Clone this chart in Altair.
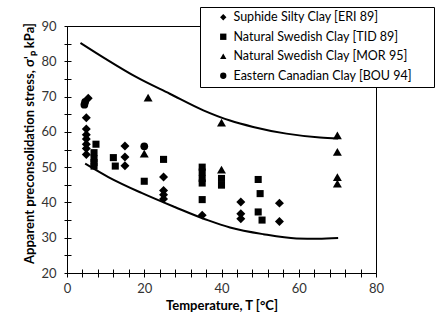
import altair as alt
import pandas as pd

series_names = [
    "Suphide Silty Clay [ERI 89]",
    "Natural Swedish Clay [TID 89]",
    "Natural Swedish Clay [MOR 95]",
    "Eastern Canadian Clay [BOU 94]",
]

# Suphide Silty Clay [ERI 89]
eri_T = [5.5, 5, 5, 5, 5, 5, 5, 5, 15, 15, 15, 25, 25, 25, 25, 35, 45, 45, 45, 55, 55]
eri_s = [69.5, 64.0, 60.8, 59.2, 58.0, 56.5, 55.3, 53.6, 56.0, 52.9, 50.4,
         47.2, 43.4, 42.2, 41.0, 36.4, 40.1, 36.8, 35.4, 39.8, 34.6]
# Natural Swedish Clay [TID 89]
tid_T = [7.5, 7, 7, 7, 7, 12, 12.5, 20, 25, 35, 35, 35, 35, 35, 40, 40, 49.5, 50, 49.5, 50.5]
tid_s = [56.5, 54.1, 52.4, 51.3, 50.3, 52.7, 50.3, 46.0, 52.2, 50.0, 48.6, 46.8, 45.5, 40.8,
         46.8, 44.9, 46.5, 42.5, 37.3, 35.0]
# Natural Swedish Clay [MOR 95]
mor_T = [20, 21, 40, 40, 70, 70, 70, 70]
mor_s = [53.8, 69.7, 62.6, 49.3, 59.0, 54.3, 47.2, 45.3]
# Eastern Canadian Clay [BOU 94]
bou_T = [4.7, 4.5, 20]
bou_s = [68.5, 67.7, 55.9]

# bounding curves
upper_T = [3.5, 10, 18, 26.6, 35.3, 42.2, 48.2, 56.8, 65.5, 70.2]
upper_s = [85.2, 80.7, 75.5, 70.8, 66.1, 63.2, 61.4, 59.5, 58.4, 58.1]
lower_T = [4.7, 10.7, 19.3, 27.9, 36.6, 42.2, 50.8, 59.4, 65.0, 70.2]
lower_s = [51.0, 47.2, 42.7, 38.7, 34.9, 32.9, 31.0, 29.8, 29.7, 29.9]

x_ticks = list(range(0, 81, 4))
y_ticks = list(range(20, 91, 5))

rows = []
for name, ts, ss in zip(series_names, [eri_T, tid_T, mor_T, bou_T], [eri_s, tid_s, mor_s, bou_s]):
    for t, s in zip(ts, ss):
        rows.append({"T": t, "s": s, "series": name})
pts = pd.DataFrame(rows)

curves = pd.DataFrame(
    [{"T": t, "s": s, "curve": "upper"} for t, s in zip(upper_T, upper_s)]
    + [{"T": t, "s": s, "curve": "lower"} for t, s in zip(lower_T, lower_s)]
)

FONT = "Lato"
W, H = 309, 247

xscale = alt.Scale(domain=[0, 80], nice=False)
yscale = alt.Scale(domain=[20, 90], nice=False)

x_axis = alt.Axis(
    values=x_ticks,
    labelExpr="datum.value % 20 == 0 ? datum.label : ''",
    labelOverlap=False, labelFlush=False,
    title="Temperature, T [°C]",
    grid=True, gridColor="black", gridOpacity=1, gridWidth=1,
    gridDash=[4, H - 4], gridDashOffset=4,
    tickSize=4, tickColor="black", domainColor="black",
    labelFont=FONT, labelFontSize=13, labelColor="#333333", labelPadding=5,
    titleFont=FONT, titleFontSize=13, titleFontWeight="bold", titleColor="black",
    titlePadding=4,
)
y_axis = alt.Axis(
    values=y_ticks,
    labelExpr="datum.value % 10 == 0 ? datum.label : ''",
    labelOverlap=False, labelFlush=False,
    title="Apparent preconsolidation stress, σ'ₚ kPa]",
    grid=True, gridColor="black", gridOpacity=1, gridWidth=1,
    gridDash=[4, 1000],
    tickSize=3, tickColor="black", domainColor="black",
    labelFont=FONT, labelFontSize=13, labelColor="#333333", labelPadding=8,
    titleFont=FONT, titleFontSize=13, titleFontWeight="bold", titleColor="black",
    titlePadding=4, titleY=117,
)

X = alt.X("T:Q", scale=xscale, axis=x_axis)
Y = alt.Y("s:Q", scale=yscale, axis=y_axis)

lines = alt.Chart(curves).mark_line(color="black", strokeWidth=2, interpolate="monotone").encode(
    x=X, y=Y, detail="curve:N",
)

size_rule = alt.SizeValue(
    80,
    condition=[
        {"test": f"datum.series == '{series_names[1]}'", "value": 50},
        {"test": f"datum.series == '{series_names[3]}'", "value": 60},
    ],
)

points = alt.Chart(pts).mark_point(filled=True, opacity=1, color="black").encode(
    x=X, y=Y,
    shape=alt.Shape(
        "series:N",
        scale=alt.Scale(domain=series_names, range=["diamond", "square", "triangle-up", "circle"]),
        legend=alt.Legend(
            orient="none", legendX=133, legendY=-19,
            title="x", titleOrient="right", titleColor="white", titleFontSize=10,
            titlePadding=12,
            strokeColor="black", fillColor="white",
            padding=4, rowPadding=6.5, symbolOffset=13, symbolSize=40,
            symbolFillColor="black", symbolStrokeColor="black",
            labelFont=FONT, labelFontSize=12.5, labelColor="black", labelOffset=4,
            labelLimit=300,
        ),
    ),
    size=size_rule,
)

chart = alt.layer(lines, points).properties(
    width=W, height=H,
    padding={"left": 67, "top": 26, "right": 61, "bottom": 48},
    autosize=alt.AutoSizeParams(type="none"),
    background="white",
).configure_view(stroke="black", strokeWidth=1)

chart.save("out.html", embed_options={"renderer": "svg", "actions": False})
